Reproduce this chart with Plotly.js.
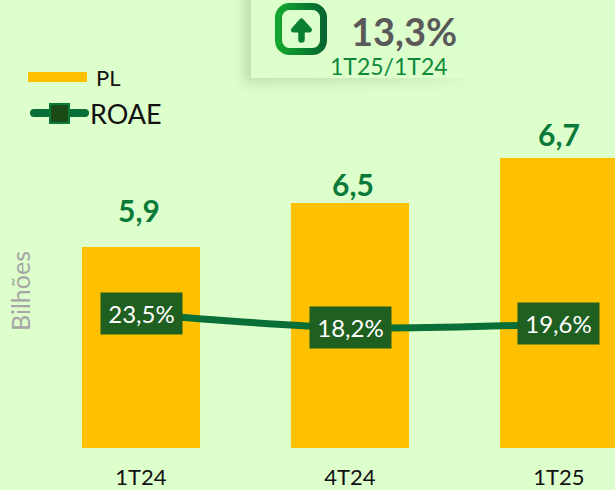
<!DOCTYPE html>
<html><head><meta charset="utf-8">
<script src="https://cdn.plot.ly/plotly-3.0.1.min.js"></script>
<style>html,body{margin:0;padding:0;background:#DDFFCC;overflow:hidden}</style>
</head><body><div id="c" style="width:615px;height:490px"></div>
<script>
const categories = ['1T24','4T24','1T25'];
const plLabels = ['5,9','6,5','6,7'];
const plBarLengths = [5.9,7.19,8.51]; // lengths as drawn in the picture
const plLabelShiftY = [37,19,24];
const plLabelShiftX = [-2,3,0];
const roaeValues = [23.5,18.2,19.6];
const roaeLabels = ['23,5%','18,2%','19,6%'];
const roaeBoxShiftX = [1,1,0];
const FONT = 'Lato, Carlito, Calibri, sans-serif';
const BG = '#DDFFCC';
const W = 615, PH = 448;
const px = x => x / W, py = y => (PH - y) / PH;

const icon = `<svg xmlns="http://www.w3.org/2000/svg" width="615" height="490" viewBox="0 0 615 490">
<defs><linearGradient id="g" x1="0" x2="1" y1="0" y2="0"><stop offset="0" stop-color="#12A52E"/><stop offset="1" stop-color="#05672F"/></linearGradient>
<filter id="b" x="-20%" y="-20%" width="140%" height="140%"><feGaussianBlur stdDeviation="6"/></filter>
<linearGradient id="f" x1="0" x2="1" y1="0" y2="0"><stop offset="0" stop-color="#000" stop-opacity=".12"/><stop offset=".75" stop-color="#000" stop-opacity=".07"/><stop offset="1" stop-color="#000" stop-opacity="0"/></linearGradient></defs>
<rect x="243" y="-10" width="235" height="94" fill="url(#f)" filter="url(#b)"/>
<rect x="251" y="-10" width="240" height="88" fill="${BG}"/>
<rect x="278.5" y="6.5" width="45" height="45" rx="11" fill="${BG}" stroke="url(#g)" stroke-width="7"/>
<path d="M301.5 21 L309.5 30 L293.5 30 Z" fill="#0A7F33" stroke="#0A7F33" stroke-width="5" stroke-linejoin="round"/>
<path d="M301.5 28 L301.5 39.5" stroke="#0A7F33" stroke-width="6.5" stroke-linecap="round"/>
</svg>`;

const traces = [
  {type:'bar', x:categories, y:plBarLengths, name:'PL', marker:{color:'#FFC000'}, hoverinfo:'skip'},
  {type:'scatter', mode:'lines', x:categories, y:roaeValues, yaxis:'y2', name:'ROAE',
   line:{color:'#0A6E37', width:7, shape:'spline', smoothing:1}, hoverinfo:'skip'}
];

const annotations = [];
categories.forEach((c,i)=>{
  annotations.push({x:c, y:plBarLengths[i], xref:'x', yref:'y', text:'<b>'+plLabels[i]+'</b>', showarrow:false,
    yanchor:'middle', yshift:plLabelShiftY[i], xshift:plLabelShiftX[i], font:{family:FONT, size:30, color:'#0A7A3A'}});
  annotations.push({x:c, y:roaeValues[i], xref:'x', yref:'y2', text:roaeLabels[i], showarrow:false, xshift:roaeBoxShiftX[i],
    width:79, height:39, bgcolor:'#1F5F1F', font:{family:FONT, size:24, color:'#FFFFFF'}, valign:'middle', align:'center'});
});
function label(text,x,y,size,color,anchor,angle){
  annotations.push({xref:'paper',yref:'paper',x:px(x),y:py(y),text,showarrow:false,xanchor:anchor||'center',yanchor:'middle',
    textangle:angle||0,font:{family:FONT,size,color}});
}
label('PL',94,77,22,'#111111','left');
label('ROAE',88,113,27,'#111111','left');
label('Bilhões',20,291,25,'#A6A6A6','center',-90);
label('<b>13,3%</b>',404,31,38,'#595959');
label('1T25/1T24',388.5,66,23,'#0F8A3C');

const layout = {
  width:615, height:490, margin:{l:0,r:0,t:0,b:42,pad:0},
  paper_bgcolor:BG, plot_bgcolor:BG, showlegend:false, bargap:0.435,
  font:{family:FONT},
  xaxis:{type:'category', range:[-0.6746,2.268], showgrid:false, zeroline:false, showline:false,
    ticks:'outside', ticklen:10, tickcolor:'rgba(0,0,0,0)', tickfont:{family:FONT,size:22,color:'#111111'}},
  yaxis:{range:[0,13.15], visible:false, fixedrange:true},
  yaxis2:{range:[-29.05,146.6], overlaying:'y', side:'right', visible:false},
  annotations,
  images:[{source:'data:image/svg+xml;base64,'+btoa(icon), xref:'paper', yref:'paper', x:0, y:py(0), sizex:1, sizey:490/PH,
    xanchor:'left', yanchor:'top', sizing:'stretch', layer:'below'}],
  shapes:[
    {type:'rect',xref:'paper',yref:'paper',x0:px(28),x1:px(87),y0:py(72),y1:py(82),fillcolor:'#FFC000',line:{width:0}},
    {type:'line',xref:'paper',yref:'paper',x0:px(34),x1:px(85),y0:py(113),y1:py(113),line:{color:'#0A6E37',width:8},},
    {type:'circle',xref:'paper',yref:'paper',x0:px(30),x1:px(38),y0:py(109),y1:py(117),fillcolor:'#0A6E37',line:{width:0}},
    {type:'circle',xref:'paper',yref:'paper',x0:px(81),x1:px(89),y0:py(109),y1:py(117),fillcolor:'#0A6E37',line:{width:0}},
    {type:'rect',xref:'paper',yref:'paper',x0:px(50),x1:px(69),y0:py(104),y1:py(123),fillcolor:'#1A4A15',line:{color:'#0A7A3A',width:2}}
  ]
};
Plotly.newPlot('c',traces,layout,{displayModeBar:false,staticPlot:true});
</script></body></html>
